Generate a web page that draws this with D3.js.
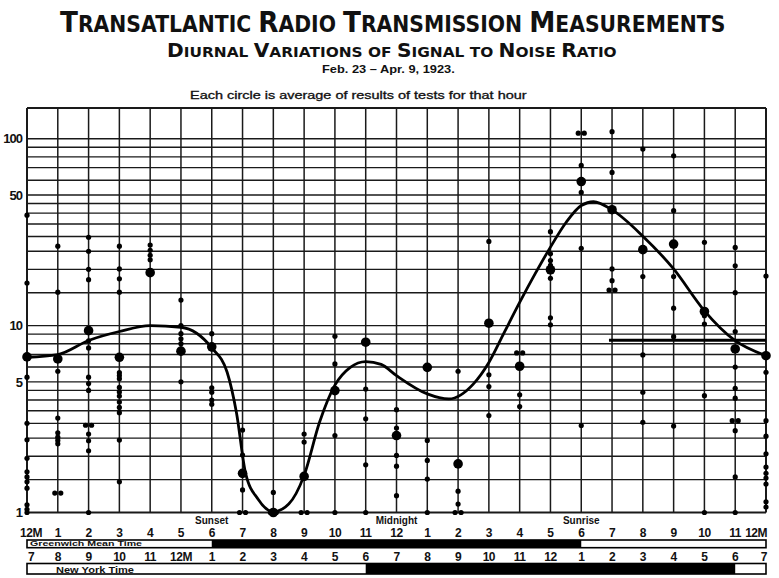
<!DOCTYPE html>
<html>
<head>
<meta charset="utf-8">
<script src="https://cdnjs.cloudflare.com/ajax/libs/d3/7.8.5/d3.min.js"></script>
<style>
body { margin: 0; background: #fff; }
svg { display: block; background: #fff; }
text { fill: #111; white-space: pre; }
</style>
</head>
<body>
<svg id="chart" width="779" height="578"></svg>
<script>
// hours along the bottom, 12M (noon GMT) to 12M
var hours = [0, 1, 2, 3, 4, 5, 6, 7, 8, 9, 10, 11, 12, 13, 14, 15, 16, 17, 18, 19, 20, 21, 22, 23, 24];
var gmtLabels = ["12M", "1", "2", "3", "4", "5", "6", "7", "8", "9", "10", "11", "12",
                 "1", "2", "3", "4", "5", "6", "7", "8", "9", "10", "11", "12M"];
var nyLabels = ["7", "8", "9", "10", "11", "12M", "1", "2", "3", "4", "5", "6", "7",
                "8", "9", "10", "11", "12", "1", "2", "3", "4", "5", "6", "7"];
var yTicks = [1, 5, 10, 50, 100];
var gridValues = [1, 1.5, 2, 2.5, 3, 3.5, 4, 4.5, 5, 6, 7, 8, 9, 10,
                  15, 20, 25, 30, 35, 40, 45, 50, 60, 70, 80, 90, 100];

// single test results, one list per hour (index = hour)
var tests = [
    [39, 16.9, 5.3, 3.0, 2.45, 1.95, 1.65, 1.55, 1.46, 1.35, 1.1, 1.04, 1.0],
    [26.6, 15.1, 5.7, 3.2, 2.67, 2.53, 2.43, 2.33, 1.27, 1.27],
    [29.7, 25, 20, 17.6, 8.3, 7.6, 5.3, 4.9, 4.5, 2.93, 2.93, 2.63, 2.42, 2.14, 1.0],
    [26.6, 20.1, 17.8, 15.1, 5.6, 5.4, 5.2, 4.67, 4.42, 4.2, 3.9, 3.65, 3.42, 2.44, 1.46],
    [27, 25.3, 23.8, 22.5],
    [13.7, 10, 9.05, 8.5, 8.0, 5.0],
    [9.05, 7.5, 4.65, 4.4, 4.0, 3.8],
    [2.76, 2.03, 1.32, 1.0, 1.0],
    [1.28, 1.0, 1.0],
    [2.63, 2.38, 1.0, 1.0],
    [8.77, 6.24, 2.58, 1.0],
    [4.58, 3.17, 1.8, 1.0],
    [3.55, 2.83, 2.02, 1.77, 1.23],
    [2.43, 1.9, 1.51, 1.0],
    [5.7, 1.3, 1.11, 1.0, 1.0],
    [28.2, 5.45, 4.72, 3.3],
    [7.14, 7.14, 4.26, 3.69],
    [31.8, 24.2, 22.3, 21, 17.9, 11, 10.1],
    [107, 107, 72, 51.6, 25.9, 2.92],
    [109, 66, 20.1, 17.4, 15.5, 15.5],
    [88, 18.3, 6.97, 4.4, 3.04],
    [81, 41.2, 18.3, 12.4, 8.73, 2.9],
    [27.9, 11.3, 10.2, 4.22, 1.0],
    [26.2, 20.9, 15, 9.29, 6, 4.62, 4.09, 3.1, 3.1, 2.74, 1.55, 1.0],
    [18.4, 5.63, 3.1, 2.56, 2.06, 1.75, 1.62, 1.53, 1.42, 1.14, 1.07]
];

// hourly averages (the big circles)
var averages = [6.8, 6.63, 9.4, 6.77, 19.2, 7.3, 7.7, 1.62, 1.0, 1.56, 4.49, 8.15, 2.58,
                5.98, 1.82, 10.3, 6.06, 19.9, 59, 41.7, 25.5, 27.3, 11.9, 7.5, 6.9];

// faired curve through the averages
var curveHours = [0, 1, 2, 3, 4, 5, 6, 6.5, 6.8, 7.1, 7.5, 8, 8.5, 9, 9.5, 10, 10.5, 11, 11.5,
                  12, 13, 13.7, 14.5, 15, 15.5, 16, 16.5, 17, 17.5, 18, 18.4, 19, 20, 21, 22, 23, 24];
var curveValues = [6.77, 7.0, 8.33, 9.3, 10, 9.8, 7.6, 5.63, 3.44, 1.62, 1.18, 1.01, 1.11, 1.58, 3.04, 4.8, 5.98, 6.42, 6.2,
                   5.4, 4.31, 4.05, 4.88, 6.35, 9.2, 13.3, 18.9, 26.3, 35.5, 43.9, 46, 41.6, 30.1, 20.1, 12.0, 8.3, 6.9];

// heavy horizontal mark on the right
var markHours = [18.9, 24];
var markValue = 8.35;

var gmtNight = [6, 18];
var nyNight = [11, 23];
var events = ["Sunset", "Midnight", "Sunrise"];
var eventHours = [6, 12, 18];

var svg = d3.select("#chart");
var sans = "'DejaVu Sans', sans-serif";
var narrow = "'Liberation Sans', Arial, sans-serif";

var x = d3.scaleLinear().domain([0, 24]).range([27, 766]);
var y = d3.scaleLog().domain([1, 146]).range([512.5, 108]);

// first letter of each word big, the rest as small capitals
function smallCaps(text, str, big, small) {
    var runs = [];
    str.split("").forEach(function(c) {
        var size = (c >= "A" && c <= "Z") ? big : small;
        if (runs.length && runs[runs.length - 1].size === size) runs[runs.length - 1].s += c;
        else runs.push({s: c, size: size});
    });
    text.selectAll("tspan").data(runs).enter()
        .append("tspan")
            .attr("font-size", function(d) { return d.size; })
            .text(function(d) { return d.s.toUpperCase(); });
}

// stretch a text horizontally so it spans the same width as the original lettering
function fitWidth(text, left, baseline, width) {
    var w = text.node().getComputedTextLength();
    text.attr("transform", "translate(" + left + "," + baseline + ") scale(" + (width / w) + ",1)");
}

// titles
svg.append("text")
    .attr("font-family", sans).attr("font-weight", "bold")
    .call(smallCaps, "Transatlantic Radio Transmission Measurements", 29, 22.5)
    .call(fitWidth, 60, 31.5, 666);

svg.append("text")
    .attr("font-family", sans).attr("font-weight", "bold")
    .call(smallCaps, "Diurnal Variations of Signal to Noise Ratio", 19, 14.5)
    .call(fitWidth, 167, 57.3, 450);

svg.append("text")
    .attr("font-family", narrow).attr("font-weight", "bold").attr("font-size", 11)
    .text("Feb. 23 \u2013 Apr. 9, 1923.")
    .call(fitWidth, 322, 72.5, 133);

svg.append("text")
    .attr("font-family", narrow).attr("font-size", 10)
    .attr("stroke", "#111").attr("stroke-width", 0.3)
    .text("Each circle is average of results of tests for that hour")
    .call(fitWidth, 190, 99, 337);

// grid
var grid = svg.append("g").attr("stroke", "#1a1a1a");

grid.selectAll("line.h").data(gridValues).enter()
    .append("line")
        .attr("x1", x(0)).attr("x2", x(24))
        .attr("y1", function(d) { return y(d); })
        .attr("y2", function(d) { return y(d); })
        .attr("stroke-width", function(d) { return d === 1 ? 2 : 1.4; });

grid.selectAll("line.v").data(hours).enter()
    .append("line")
        .attr("x1", function(d) { return x(d); })
        .attr("x2", function(d) { return x(d); })
        .attr("y1", y(1)).attr("y2", y.range()[1])
        .attr("stroke-width", function(d) { return d === 0 || d === 24 ? 2 : 1.5; });

grid.append("line")
    .attr("x1", x(0)).attr("x2", x(24))
    .attr("y1", y.range()[1]).attr("y2", y.range()[1])
    .attr("stroke-width", 2);

// y labels
svg.selectAll("text.ytick").data(yTicks).enter()
    .append("text")
        .attr("x", 22)
        .attr("y", function(d) { return y(d); })
        .attr("dy", "0.36em")
        .attr("text-anchor", "end")
        .attr("font-family", narrow).attr("font-weight", "bold").attr("font-size", 13)
        .attr("letter-spacing", -1)
        .text(function(d) { return d; });

// heavy mark
svg.append("line")
    .attr("x1", x(markHours[0])).attr("x2", x(markHours[1]))
    .attr("y1", y(markValue)).attr("y2", y(markValue))
    .attr("stroke", "#000").attr("stroke-width", 3);

// curve
var line = d3.line()
    .x(function(d, i) { return x(d); })
    .y(function(d, i) { return y(curveValues[i]); })
    .curve(d3.curveMonotoneX);

svg.append("path")
    .attr("d", line(curveHours))
    .attr("fill", "none")
    .attr("stroke", "#000")
    .attr("stroke-width", 2.8);

// test dots; equal values at one hour sit side by side
var dots = [];
tests.forEach(function(list, h) {
    var seen = {};
    list.forEach(function(v) {
        var n = list.filter(function(w) { return w === v; }).length;
        var k = seen[v] || 0;
        seen[v] = k + 1;
        dots.push({hour: h, value: v, shift: (k - (n - 1) / 2) * 6});
    });
});

svg.selectAll("circle.dot").data(dots).enter()
    .append("circle")
        .attr("cx", function(d) { return x(d.hour) + d.shift; })
        .attr("cy", function(d) { return y(d.value); })
        .attr("r", 2.6)
        .attr("fill", "#000");

svg.selectAll("circle.avg").data(averages).enter()
    .append("circle")
        .attr("cx", function(d, i) { return x(hours[i]); })
        .attr("cy", function(d) { return y(d); })
        .attr("r", 4.8)
        .attr("fill", "#000");

// sunset / midnight / sunrise
svg.selectAll("text.event").data(events).enter()
    .append("text")
        .attr("x", function(d, i) { return x(eventHours[i]); })
        .attr("y", 524)
        .attr("text-anchor", "middle")
        .attr("font-family", narrow).attr("font-weight", "bold").attr("font-size", 10)
        .text(function(d) { return d; });

// hour rows and day/night bands
function hourRow(labels, baseline) {
    svg.selectAll(null).data(labels).enter()
        .append("text")
            .attr("x", function(d, i) { return i === 0 ? x(i) + 4 : i === 24 ? x(i) + 1 : x(i); })
            .attr("y", baseline)
            .attr("text-anchor", function(d, i) { return i === 24 ? "end" : "middle"; })
            .attr("font-family", narrow).attr("font-weight", "bold").attr("font-size", 12)
            .attr("letter-spacing", -0.5)
            .text(function(d) { return d; });
}

function band(night, top, height, label, labelX, labelLen, labelSize) {
    svg.append("rect")
        .attr("x", x(0)).attr("y", top)
        .attr("width", x(24) - x(0)).attr("height", height)
        .attr("fill", "#fff").attr("stroke", "#000").attr("stroke-width", 1.6);
    svg.append("rect")
        .attr("x", x(night[0])).attr("y", top)
        .attr("width", x(night[1]) - x(night[0])).attr("height", height)
        .attr("fill", "#000");
    svg.append("text")
        .attr("x", labelX).attr("y", top + height - 1.5)
        .attr("font-family", narrow).attr("font-weight", "bold").attr("font-size", labelSize)
        .attr("textLength", labelLen).attr("lengthAdjust", "spacingAndGlyphs")
        .text(label);
}

hourRow(gmtLabels, 536.5);
band(gmtNight, 540, 7.7, "Greenwich Mean Time", 30, 112, 8);
hourRow(nyLabels, 561);
band(nyNight, 563.5, 10.5, "New York Time", 56, 78, 9.5);
</script>
</body>
</html>
